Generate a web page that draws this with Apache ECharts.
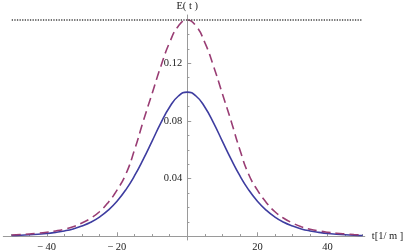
<!DOCTYPE html>
<html>
<head>
<meta charset="utf-8">
<script src="https://cdn.jsdelivr.net/npm/echarts@6/dist/echarts.min.js"></script>
<style>html,body{margin:0;padding:0;background:#fff;}#c{width:415px;height:250px;}</style>
</head>
<body>
<div id="c"></div>
<script>
var tValues = [-50,-47.5,-45,-42.5,-40,-37.5,-35,-32.5,-30,-27.5,-25,-22.5,-20,-17.5,-15,-12.5,-10,-7.5,-5,-2.5,0,2.5,5,7.5,10,12.5,15,17.5,20,22.5,25,27.5,30,32.5,35,37.5,40,42.5,45,47.5,50];
var solidValues = [0.0005,0.0007,0.0010,0.0014,0.0019,0.0027,0.0037,0.0051,0.0071,0.0097,0.0133,0.0181,0.0243,0.0322,0.0420,0.0535,0.0660,0.0787,0.0897,0.0973,0.1,0.0973,0.0897,0.0787,0.0660,0.0535,0.0420,0.0322,0.0243,0.0181,0.0133,0.0097,0.0071,0.0051,0.0037,0.0027,0.0019,0.0014,0.0010,0.0007,0.0005];
var dashedValues = [0.0009,0.0012,0.0016,0.0021,0.0028,0.0037,0.0049,0.0066,0.0092,0.0125,0.0170,0.0235,0.0320,0.0430,0.0600,0.0800,0.0990,0.1180,0.1345,0.1459,0.15,0.1459,0.1345,0.1180,0.0990,0.0800,0.0600,0.0430,0.0320,0.0235,0.0170,0.0125,0.0092,0.0066,0.0049,0.0037,0.0028,0.0021,0.0016,0.0012,0.0009];
var levelRange = [-50, 50];
var levelValue = 0.15;
var xTickLabels = [-40, -20, 20, 40];
var xMinorTicks = [-50,-45,-35,-30,-25,-15,-10,-5,5,10,15,25,30,35,45,50];
var yTickLabels = [0.04, 0.08, 0.12];
var yMinorTicks = [0.01,0.02,0.03,0.05,0.06,0.07,0.09,0.10,0.11,0.13,0.14,0.15];

var FONT = '"Liberation Serif", "DejaVu Serif", serif';
var AX = '#9a9a9a';
var TXT = '#222';

function pairs(xs, ys){ return xs.map(function(x,i){ return [x, ys[i]]; }); }

var xMin = -52.4, xMax = 50.6, yMin = -0.0026, yMax = 0.1535;
var gL = 3.3, gR = 50.2, gT = 15, gB = 10;
var W = 415, H = 250;
var pxX = (W - gL - gR) / (xMax - xMin);
var pxY = (H - gT - gB) / (yMax - yMin);
var yAxisOffset = -(0 - xMin) * pxX;
var xAxisOffset = -(0 - yMin) * pxY;

var chart = echarts.init(document.getElementById('c'), null, {renderer:'canvas'});
chart.setOption({
  animation: false,
  grid: {left: gL, right: gR, top: gT, bottom: gB, containLabel: false, outerBoundsMode: 'none'},
  xAxis: [{
    type: 'value', min: xMin, max: xMax, position: 'bottom', offset: xAxisOffset,
    name: 't[1/ m ]', nameLocation: 'end', nameGap: 7,
    nameTextStyle: {fontFamily: FONT, fontSize: 10.5, color: TXT},
    axisLine: {show: true, onZero: false, lineStyle: {color: AX, width: 1}},
    axisTick: {show: true, inside: true, length: 4, customValues: xTickLabels, lineStyle: {color: AX}},
    axisLabel: {show: true, margin: 5, customValues: xTickLabels, fontFamily: FONT, fontSize: 10.5, color: TXT,
      formatter: function(v){ return v < 0 ? '\u2212\u2009' + Math.abs(v) : String(v); }},
    splitLine: {show: false}
  }, {
    type: 'value', min: xMin, max: xMax, position: 'bottom', offset: xAxisOffset,
    axisLine: {show: false, onZero: false},
    axisTick: {show: true, inside: true, length: 2.2, customValues: xMinorTicks, lineStyle: {color: AX}},
    axisLabel: {show: false},
    splitLine: {show: false}
  }],
  yAxis: [{
    type: 'value', min: yMin, max: yMax, position: 'left', offset: yAxisOffset,
    name: 'E( t )', nameLocation: 'end', nameGap: 3,
    nameTextStyle: {fontFamily: FONT, fontSize: 10.5, color: TXT, align: 'center'},
    axisLine: {show: true, onZero: false, lineStyle: {color: AX, width: 1}},
    axisTick: {show: true, inside: true, length: 4, customValues: yTickLabels, lineStyle: {color: AX}},
    axisLabel: {show: true, margin: 5, customValues: yTickLabels, fontFamily: FONT, fontSize: 10.5, color: TXT,
      formatter: function(v){ return v.toFixed(2); }},
    splitLine: {show: false}
  }, {
    type: 'value', min: yMin, max: yMax, position: 'left', offset: yAxisOffset,
    axisLine: {show: false, onZero: false},
    axisTick: {show: true, inside: true, length: 2.2, customValues: yMinorTicks, lineStyle: {color: AX}},
    axisLabel: {show: false},
    splitLine: {show: false}
  }],
  series: [{
    type: 'line', xAxisIndex: 0, yAxisIndex: 0, smooth: true, showSymbol: false, symbol: 'none',
    data: pairs(tValues, solidValues),
    lineStyle: {color: '#3e3da0', width: 1.6}
  }, {
    type: 'line', xAxisIndex: 0, yAxisIndex: 0, smooth: true, showSymbol: false, symbol: 'none',
    data: pairs(tValues, dashedValues),
    lineStyle: {color: '#993d74', width: 1.6, type: [9, 5]}
  }, {
    type: 'line', xAxisIndex: 0, yAxisIndex: 0, showSymbol: false, symbol: 'none',
    data: levelRange.map(function(x){ return [x, levelValue]; }),
    lineStyle: {color: '#444', width: 1.4, type: [1.3, 1.3]}
  }]
});
</script>
</body>
</html>
